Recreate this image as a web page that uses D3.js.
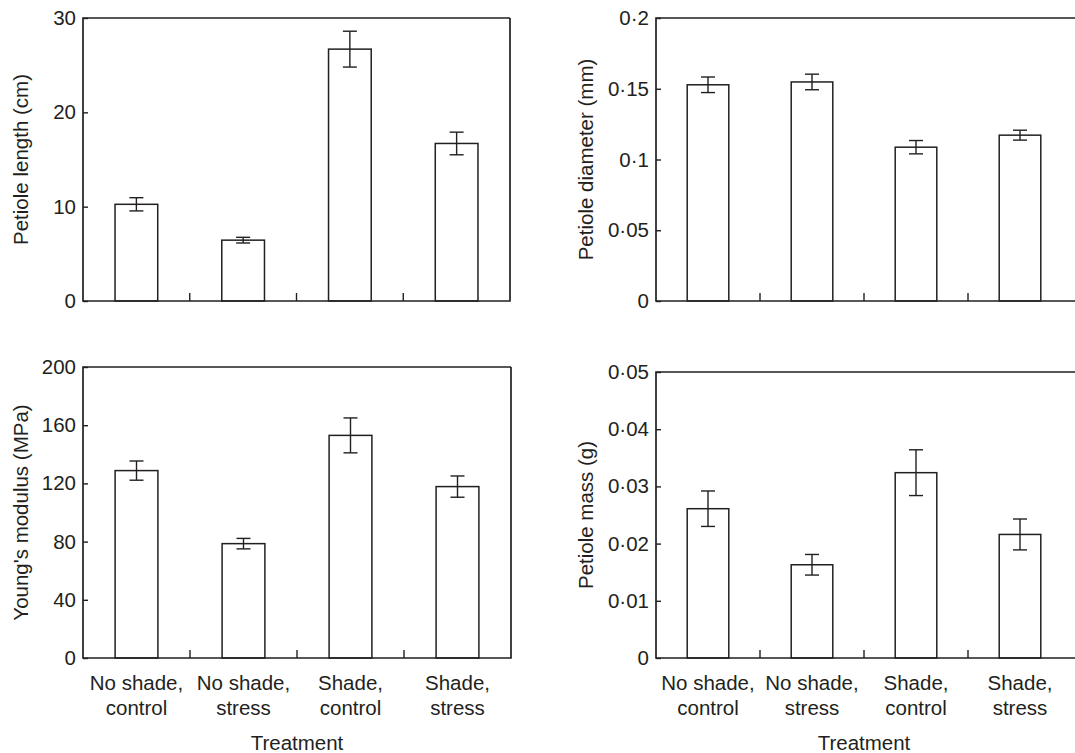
<!DOCTYPE html>
<html>
<head>
<meta charset="utf-8">
<script src="https://cdn.jsdelivr.net/npm/d3@7"></script>
<style>
  body { margin: 0; background: #fff; }
  svg text { font-family: "Liberation Sans", Arial, Helvetica, sans-serif; fill: #231f20; }
</style>
</head>
<body>
<svg id="chart" width="1075" height="753"></svg>
<script>
// treatments, same order in every panel
var categories = ["No shade, control", "No shade, stress", "Shade, control", "Shade, stress"];
var cat_lines = [["No shade,", "control"], ["No shade,", "stress"], ["Shade,", "control"], ["Shade,", "stress"]];

// panel values (mean, error)
var length_mean = [10.25, 6.45, 26.7, 16.7];
var length_err  = [0.7, 0.3, 1.9, 1.2];
var diam_mean   = [0.1528, 0.1548, 0.1087, 0.1172];
var diam_err    = [0.0055, 0.0055, 0.0047, 0.0035];
var young_mean  = [128.8, 78.6, 153, 117.8];
var young_err   = [6.6, 3.6, 12, 7.3];
var mass_mean   = [0.0261, 0.0163, 0.0324, 0.0216];
var mass_err    = [0.0031, 0.0018, 0.004, 0.0027];

// tick labels
var length_ticks = [0, 10, 20, 30];
var diam_ticks   = [0, 0.05, 0.1, 0.15, 0.2];
var young_ticks  = [0, 40, 80, 120, 160, 200];
var mass_ticks   = [0, 0.01, 0.02, 0.03, 0.04, 0.05];

var ink = "#231f20";
var fsize = "20.5px";
var svg = d3.select("#chart");

// journal style decimal point
function dot_fmt (v) {
  return String(+v.toFixed(4)).replace(".", "\u00b7");
}

function draw_panel (spec) {
  var g = svg.append("g")
             .attr("transform", "translate(" + spec.x + "," + spec.y + ")");

  var x = d3.scaleBand()
            .domain(categories)
            .range([0, spec.w])
            .paddingInner(0.6)
            .paddingOuter(0.3);
  var y = d3.scaleLinear()
            .domain([0, d3.max(spec.ticks)])
            .range([spec.h, 0]);

  // bars
  g.selectAll("rect.bar")
   .data(spec.mean)
   .enter().append("rect")
   .attr("class", "bar")
   .attr("x", function (d, i) { return x(categories[i]); })
   .attr("y", function (d) { return y(d); })
   .attr("width", x.bandwidth())
   .attr("height", function (d) { return spec.h - y(d); })
   .attr("fill", "#fff")
   .attr("stroke", ink)
   .attr("stroke-width", 1.5);

  // error bars
  var cap = 7;
  spec.mean.forEach(function (m, i) {
    var cx = x(categories[i]) + x.bandwidth() / 2;
    var lo = y(m - spec.err[i]), hi = y(m + spec.err[i]);
    var eb = g.append("g").attr("stroke", ink).attr("stroke-width", 1.4);
    eb.append("line").attr("x1", cx).attr("x2", cx).attr("y1", lo).attr("y2", hi);
    eb.append("line").attr("x1", cx - cap).attr("x2", cx + cap).attr("y1", lo).attr("y2", lo);
    eb.append("line").attr("x1", cx - cap).attr("x2", cx + cap).attr("y1", hi).attr("y2", hi);
  });

  // frame; right panels run off the page like the original
  var fw = spec.clip ? spec.w + 20 : spec.w;
  g.append("path")
   .attr("d", "M" + fw + ",0H0V" + spec.h + "H" + fw + (spec.clip ? "" : "V0"))
   .attr("fill", "none")
   .attr("stroke", ink)
   .attr("stroke-width", 1.7);

  // separators between treatments
  var step = x.step();
  for (var i = 0; i < categories.length - 1; i++) {
    var sx = x(categories[i]) + x.bandwidth() / 2 + step / 2;
    g.append("line")
     .attr("x1", sx).attr("x2", sx)
     .attr("y1", spec.h).attr("y2", spec.h - 8)
     .attr("stroke", ink).attr("stroke-width", 1.4);
  }

  // y axis
  var ax = g.append("g")
            .call(d3.axisLeft(y)
                    .tickValues(spec.ticks)
                    .tickFormat(dot_fmt)
                    .tickSizeInner(-5)
                    .tickSizeOuter(0)
                    .tickPadding(7));
  ax.select(".domain").remove();
  ax.selectAll("line").attr("stroke", ink).attr("stroke-width", 1.4);
  ax.selectAll("text")
    .attr("fill", ink)
    .style("font-size", fsize)
    .style("font-family", "'Liberation Sans', Arial, sans-serif");

  // y title
  g.append("text")
   .attr("transform", "translate(" + spec.lab_x + "," + (spec.h / 2) + ") rotate(-90)")
   .attr("text-anchor", "middle")
   .style("font-size", fsize)
   .text(spec.title);

  if (spec.xlabels) {
    cat_lines.forEach(function (lines, i) {
      var cx = x(categories[i]) + x.bandwidth() / 2;
      var t = g.append("text")
               .attr("text-anchor", "middle")
               .style("font-size", fsize);
      lines.forEach(function (ln, j) {
        t.append("tspan")
         .attr("x", cx)
         .attr("y", spec.h + 32 + j * 25)
         .text(ln);
      });
    });
    g.append("text")
     .attr("x", spec.w / 2)
     .attr("y", spec.h + 92)
     .attr("text-anchor", "middle")
     .style("font-size", fsize)
     .text("Treatment");
  }
}

draw_panel({ x: 83, y: 18, w: 427, h: 283, mean: length_mean, err: length_err,
             ticks: length_ticks, title: "Petiole length (cm)", lab_x: -55 });
draw_panel({ x: 656, y: 18, w: 416, h: 283, mean: diam_mean, err: diam_err, clip: true,
             ticks: diam_ticks, title: "Petiole diameter (mm)", lab_x: -63 });
draw_panel({ x: 83, y: 367, w: 428, h: 291, mean: young_mean, err: young_err,
             ticks: young_ticks, title: "Young's modulus (MPa)", lab_x: -55, xlabels: true });
draw_panel({ x: 656, y: 372, w: 416, h: 286, mean: mass_mean, err: mass_err, clip: true,
             ticks: mass_ticks, title: "Petiole mass (g)", lab_x: -63, xlabels: true });
</script>
</body>
</html>
